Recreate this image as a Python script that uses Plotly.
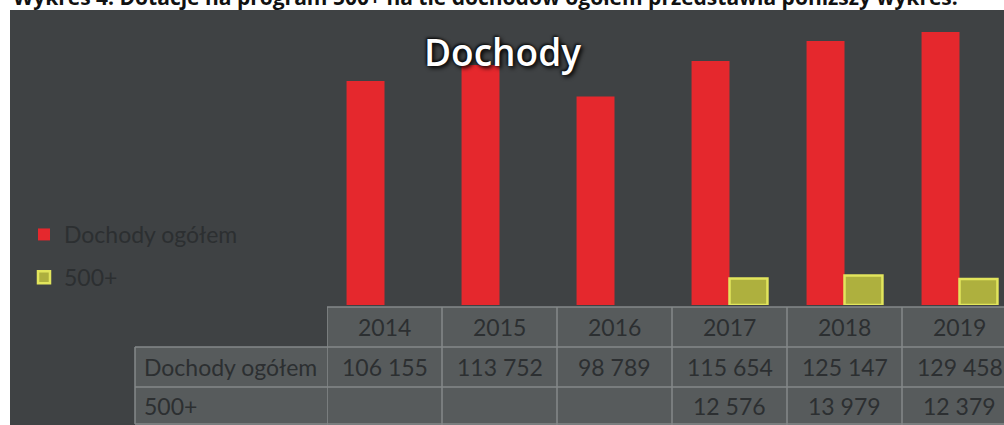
import plotly.graph_objects as go

# ---- data ----
years = ["2014", "2015", "2016", "2017", "2018", "2019"]
dochody = [106155, 113752, 98789, 115654, 125147, 129458]
p500 = [None, None, None, 12576, 13979, 12379]
series_names = ["Dochody ogółem", "500+"]
title_text = "Dochody"
caption = "Wykres 4. Dotacje na program 500+ na tle dochodów ogółem przedstawia poniższy wykres."

W, H = 1004, 425
BG = "#3f4244"
CELL = "#575b5c"
GRID = "#84888a"
TXT = "#2c2f31"
RED = "#e5282d"
YFILL = "#aeb03e"
YLINE = "#e2e55c"
FONT = "Lato, 'Open Sans', sans-serif"


def fmt(v):
    return "" if v is None else f"{v:,}".replace(",", " ")


fig = go.Figure()
fig.add_trace(go.Bar(x=years, y=dochody, name=series_names[0], legendgroup="a",
                     marker=dict(color=RED, line=dict(width=0))))
fig.add_trace(go.Bar(x=years, y=p500, name=series_names[1], legendgroup="b",
                     marker=dict(color=YFILL, line=dict(color=YLINE, width=2.5))))

# plot area geometry (pixels -> paper)
px_left, px_base, px_top = 327, 305, 11
col_w = 115.0
ymax = (px_base - px_top) * 474.0
x_hi = -0.5 + (W - px_left) / col_w

yp = lambda p: (H - p) / H
shapes = []
# white page margins (left strip and top strip) over dark paper
shapes.append(dict(type="rect", xref="paper", yref="paper", x0=-0.01, x1=10 / W, y0=-0.01, y1=1.01,
                   fillcolor="#ffffff", line=dict(width=0), layer="below"))
shapes.append(dict(type="rect", xref="paper", yref="paper", x0=-0.01, x1=1.01, y0=yp(10), y1=1.01,
                   fillcolor="#ffffff", line=dict(width=0), layer="below"))

# table cell fills
shapes.append(dict(type="rect", xref="x", yref="paper", x0=-0.5, x1=len(years) - 0.5,
                   y0=yp(425), y1=yp(307), fillcolor=CELL, line=dict(width=0), layer="below"))
shapes.append(dict(type="rect", xref="paper", yref="paper", x0=135 / W, x1=px_left / W,
                   y0=yp(425), y1=yp(347), fillcolor=CELL, line=dict(width=0), layer="below"))
# horizontal lines
shapes.append(dict(type="line", xref="paper", yref="paper", x0=px_left / W, x1=1, y0=yp(307), y1=yp(307),
                   line=dict(color=GRID, width=1.5)))
for p in (347, 387):
    shapes.append(dict(type="line", xref="paper", yref="paper", x0=135 / W, x1=1, y0=yp(p), y1=yp(p),
                       line=dict(color=GRID, width=1.5)))
shapes.append(dict(type="line", xref="paper", yref="paper", x0=135 / W, x1=135 / W, y0=yp(424), y1=yp(347),
                   line=dict(color=GRID, width=1.5)))
shapes.append(dict(type="line", xref="paper", yref="paper", x0=135 / W, x1=1, y0=yp(424), y1=yp(424),
                   line=dict(color=GRID, width=1.5)))
# vertical column separators
for k in range(len(years)):
    shapes.append(dict(type="line", xref="x", yref="paper", x0=k - 0.5, x1=k - 0.5,
                       y0=0, y1=yp(307), line=dict(color=GRID, width=1.5)))

annotations = []
# caption (cut at top)
annotations.append(dict(text=f"<b>{caption}</b>", xref="paper", yref="paper", x=11 / W, y=1.0,
                        xanchor="left", yanchor="middle", yshift=3, showarrow=False,
                        font=dict(family="'Open Sans', sans-serif", size=21, color="#111111")))
# title
annotations.append(dict(text=title_text, xref="paper", yref="paper", x=502 / W, y=yp(52),
                        xanchor="center", yanchor="middle", showarrow=False,
                        font=dict(family="'Open Sans', sans-serif", size=37, color="#ffffff",
                                  weight=600, shadow="2px 2px 4px #000, -1px -1px 3px #000")))
# table text
tf = dict(family=FONT, size=23, color=TXT)
row_centers = [327, 367, 406]
for i, yr in enumerate(years):
    annotations.append(dict(text=yr, xref="x", yref="paper", x=i, y=yp(row_centers[0]),
                            showarrow=False, font=tf, xanchor="center", yanchor="middle"))
    annotations.append(dict(text=fmt(dochody[i]), xref="x", yref="paper", x=i, y=yp(row_centers[1]),
                            showarrow=False, font=tf, xanchor="center", yanchor="middle"))
    if p500[i] is not None:
        annotations.append(dict(text=fmt(p500[i]), xref="x", yref="paper", x=i, y=yp(row_centers[2]),
                                showarrow=False, font=tf, xanchor="center", yanchor="middle"))
for name, rc in zip(series_names, row_centers[1:]):
    annotations.append(dict(text=name, xref="paper", yref="paper", x=142 / W, y=yp(rc),
                            showarrow=False, font=tf, xanchor="left", yanchor="middle"))

fig.update_layout(
    width=W, height=H,
    margin=dict(l=0, r=0, t=0, b=0),
    paper_bgcolor=BG,
    plot_bgcolor="rgba(0,0,0,0)",
    barmode="group", bargap=0.34, bargroupgap=0,
    xaxis=dict(domain=[px_left / W, 1], range=[-0.5, x_hi], visible=False, type="category"),
    yaxis=dict(domain=[yp(px_base), yp(px_top)], range=[0, ymax], visible=False),
    showlegend=True,
    legend=dict(x=24 / W, y=yp(213), xanchor="left", yanchor="top", bgcolor="rgba(0,0,0,0)",
                font=dict(family=FONT, size=23, color=TXT), traceorder="grouped",
                tracegroupgap=10),
    shapes=shapes,
    annotations=annotations,
)

fig.write_html(
    "out.html",
    config={"displayModeBar": False, "responsive": False},
    post_script=("document.documentElement.style.overflow='hidden';"
                 "document.documentElement.style.background='" + BG + "';"
                 "document.body.style.background='" + BG + "';"
                 "document.body.style.margin='0';document.body.style.overflow='hidden';"),
)
